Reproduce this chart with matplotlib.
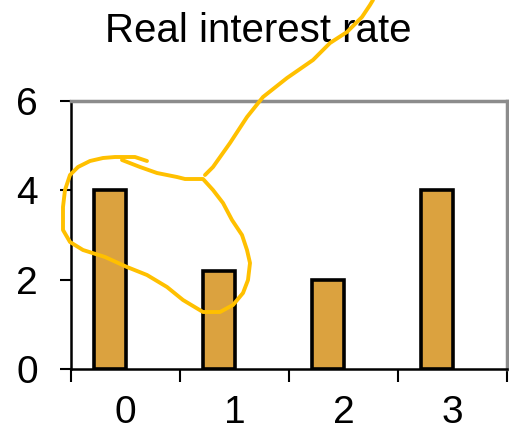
import matplotlib
matplotlib.use("Agg")
import matplotlib.pyplot as plt
from matplotlib.lines import Line2D

categories = ["0", "1", "2", "3"]
values = [4.0, 2.2, 2.0, 4.0]
title = "Real interest rate"

# hand-drawn highlighter annotation (figure pixel coordinates)
scribble_loop = [(147, 161), (135, 157), (115, 157), (103, 158), (90, 161), (78, 167), (70, 175),
                 (65, 190), (63, 207), (63, 230), (70, 242), (83, 250), (105, 257), (127, 267),
                 (147, 275), (167, 287), (183, 300), (203, 312), (220, 312), (233, 305), (243, 293),
                 (248, 280), (250, 263), (247, 250), (242, 235), (232, 220), (223, 203), (213, 190),
                 (203, 179), (185, 179), (177, 177), (157, 173), (140, 167), (122, 160)]
scribble_tail = [(205, 175), (213, 167), (230, 143), (247, 117), (263, 97), (287, 78), (313, 60),
                 (330, 43), (347, 32), (362, 17), (370, 5), (373, 0)]

W, H = 510, 441
plt.rcParams['font.family'] = ['Liberation Sans', 'DejaVu Sans']
fig = plt.figure(figsize=(W / 100, H / 100), dpi=100)
ax = fig.add_axes([71 / W, 1 - 369 / H, (507 - 71) / W, (369 - 101) / H])

x = list(range(len(categories)))
ax.bar([i - 0.14 for i in x], values, width=0.29, color="#DBA23F",
       edgecolor="black", linewidth=2.6, zorder=3)

ax.set_xlim(-0.5, len(categories) - 0.5)
ax.set_ylim(0, 6)
ax.set_yticks([0, 2, 4, 6])
ax.set_yticklabels(["0", "2", "4", "6"])
ax.set_xticks([i - 0.5 for i in range(len(categories) + 1)], minor=False)
ax.set_xticklabels([])
ax.set_xticks(x, minor=True)
ax.set_xticklabels(categories, minor=True)

ax.tick_params(axis="y", direction="out", length=8, width=1.5, labelsize=28, pad=16, colors="black")
ax.tick_params(axis="x", which="major", direction="out", length=9, width=1.5)
ax.tick_params(axis="x", which="minor", length=0, labelsize=28, pad=19)

for s in ["left", "bottom"]:
    ax.spines[s].set_color("black")
    ax.spines[s].set_linewidth(1.8)
for s in ["top", "right"]:
    ax.spines[s].set_color("#8C8C8C")
    ax.spines[s].set_linewidth(2.5)

fig.text(258 / W, 1 - 31 / H, title, ha="center", va="center", fontsize=29)

for pts in (scribble_loop, scribble_tail):
    xs = [p[0] / W for p in pts]
    ys = [1 - p[1] / H for p in pts]
    fig.add_artist(Line2D(xs, ys, transform=fig.transFigure, color="#FFC000",
                          linewidth=2.8, solid_capstyle="round", solid_joinstyle="round", zorder=10))

fig.savefig("out.png", dpi=100)
